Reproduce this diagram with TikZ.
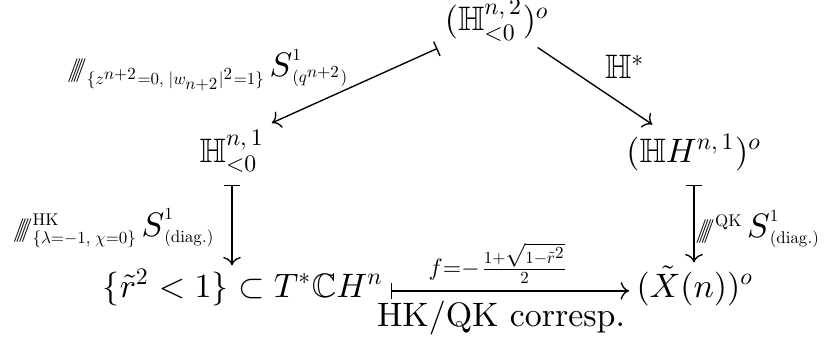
\documentclass[tikz,border=0pt]{standalone}
\usepackage{amsmath,amssymb}
\usetikzlibrary{arrows.meta,positioning,calc}
% one design size for all math sizes
\DeclareFontShape{OML}{cmm}{m}{it}{<->cmmi10}{}
\DeclareFontShape{OMS}{cmsy}{m}{n}{<->cmsy10}{}
\DeclareFontShape{OT1}{cmr}{m}{n}{<->cmr10}{}
\newcommand{\hkquot}{\mathord{/\mkern-7mu/\mkern-7mu/\mkern-7mu/}}
\newcommand{\bigS}{{\textstyle S}}
\tikzset{
  obj/.style={anchor=base,inner sep=2pt},
  lbl/.style={inner sep=1pt},
  mapsarr/.style={|->,line width=0.4pt},
  plainarr/.style={->,line width=0.4pt},
}

\begin{document}
\begin{tikzpicture}[x=0.2951pt,y=0.2951pt]
    \useasboundingbox (0,0) rectangle (832,342);
    % the spaces
    \node[obj] (top) at (497,311) {$(\mathbb{H}^{n,\,2}_{<0})^{o}$};
    \node[obj] (hl)  at (232,180) {$\mathbb{H}^{n,\,1}_{<0}$};
    \node[obj] (hr)  at (694,180) {$(\mathbb{H}H^{n,\,1})^{o}$};
    \node[obj] (bl)  at (243,45)  {$\{\tilde{r}^2<1\}\subset T^{*}\mathbb{C}H^{n}$};
    \node[obj] (br)  at (695,45)  {$(\tilde{X}(n))^{o}$};
    % the maps
    \draw[mapsarr] (top.south west) -- (hl.north east);
    \draw[plainarr,shorten <=-0.5pt,shorten >=1.3pt] (top) -- (hr);
    \draw[mapsarr,shorten <=1.5pt,shorten >=-1pt] (hl.south) -- (hl.south |- bl.north);
    \draw[mapsarr,shorten <=2pt,shorten >=-1.2pt] (hr.south) -- (hr.south |- br.north);
    \draw[mapsarr] ($(bl.east)+(0,-1pt)$) -- ($(bl.east -| br.west)+(0,-1pt)$);
    % their labels
    \node[lbl] (qtop) at (208,272)
      {$\scriptstyle\hkquot_{\{z^{n+2}=0,\;|w_{n+2}|^2=1\}}\,\bigS^1_{(q^{n+2})}$};
    \node[lbl] (hstar) at (625,275) {$\mathbb{H}^{*}$};
    \node[lbl] (qhk) at (114,114)
      {$\scriptstyle\hkquot^{\mathrm{HK}}_{\{\lambda=-1,\;\chi=0\}}\,\bigS^1_{(\mathrm{diag.})}$};
    \node[lbl] (qqk) at (758,113)
      {$\scriptstyle\hkquot^{\mathrm{QK}}\,\bigS^1_{(\mathrm{diag.})}$};
    \node[lbl] (fmap) at (499,79)
      {$\scriptstyle f=-\frac{1+\sqrt{1-\tilde{r}^2}}{2}$};
    \node[lbl] (corr) at (501,24) {HK/QK corresp.};
\end{tikzpicture}
\end{document}
